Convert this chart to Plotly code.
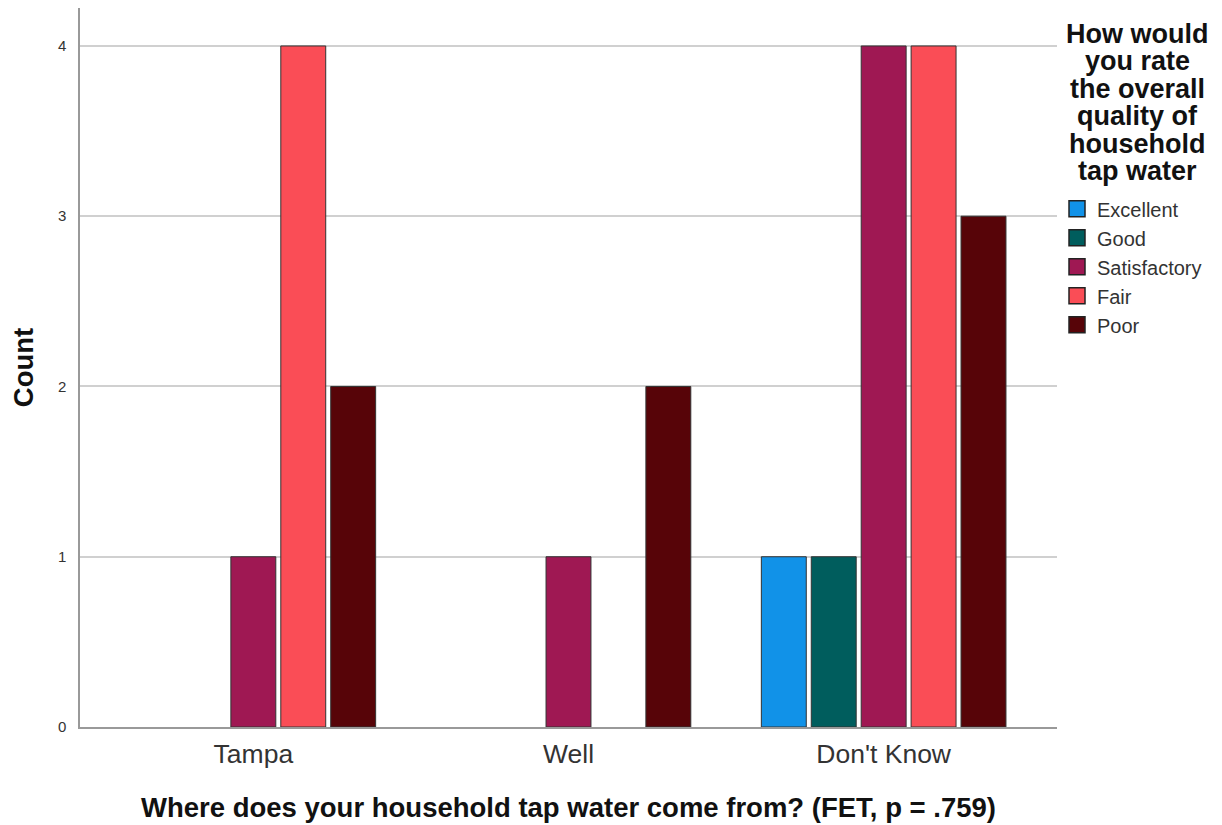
import plotly.graph_objects as go

categories = ["Tampa", "Well", "Don't Know"]
series_names = ["Excellent", "Good", "Satisfactory", "Fair", "Poor"]
excellent = [0, 0, 1]
good = [0, 0, 1]
satisfactory = [1, 1, 4]
fair = [4, 0, 4]
poor = [2, 2, 3]
colors = ["#1192e8", "#005d5d", "#9f1853", "#fa4d56", "#570408"]
y_ticks = [0, 1, 2, 3, 4]
legend_title_lines = ["How would", "you rate", "the overall", "quality of", "household", "tap water"]

FONT = "Liberation Sans, Arial, sans-serif"
W, H = 1214, 817          # page body has an 8px margin
L, R, T, B = 72, 165, 0, 98
PH = H - T - B

fig = go.Figure()
for name, vals, col in zip(series_names, [excellent, good, satisfactory, fair, poor], colors):
    fig.add_trace(go.Bar(
        name=name, x=categories, y=[v if v else None for v in vals],
        marker=dict(color=col, line=dict(color="#333333", width=1)),
        legendgroup=name, showlegend=False,
    ))
# legend entries with larger square swatches
for name, col in zip(series_names, colors):
    fig.add_trace(go.Scatter(
        name=name, x=[None], y=[None], mode="markers",
        marker=dict(symbol="square", size=16, color=col, line=dict(color="#222", width=1.5)),
        legendgroup=name, showlegend=True,
    ))

fig.update_layout(
    width=W, height=H,
    margin=dict(l=L, r=R, t=T, b=B),
    paper_bgcolor="white", plot_bgcolor="white",
    barmode="group", bargap=0.208, bargroupgap=0.1,
    font=dict(family=FONT, color="#222"),
    xaxis=dict(
        range=[-0.55, 2.55], showline=True, linecolor="#999", linewidth=1.5,
        tickfont=dict(size=26.5, color="#333"), automargin=False,
        ticks="", showgrid=False, ticklabelstandoff=2,
        title=dict(text="<b>Where does your household tap water come from? (FET, p = .759)</b>",
                   font=dict(size=27.5, color="#111"), standoff=30),
    ),
    yaxis=dict(
        range=[0, 4.223], tickvals=y_ticks, showline=True, linecolor="#999", linewidth=1.5,
        gridcolor="#d0d0d0", gridwidth=1.5, zeroline=False, automargin=False,
        tickfont=dict(size=15, color="#333"), ticks="", ticklabelstandoff=9,
        title=dict(text="<b>Count</b>", font=dict(size=27.5, color="#111"), standoff=21),
    ),
    legend=dict(
        x=1.0, xanchor="left", y=0.748, yanchor="top",
        font=dict(size=20, color="#333"),
        itemwidth=30, tracegroupgap=0, itemclick=False,
    ),
)
PW = W - L - R
ann = []
for i, line in enumerate(legend_title_lines):
    ycen = 34 + i * 27.4 - 8
    ann.append(dict(
        x=(1137 - 8 - L) / PW, xref="paper", xanchor="center",
        y=1 - (ycen - T) / PH, yref="paper", yanchor="middle",
        text="<b>%s</b>" % line, showarrow=False,
        font=dict(size=27, color="#111", family=FONT),
    ))
fig.layout.annotations = ann
fig.write_html("out.html")
